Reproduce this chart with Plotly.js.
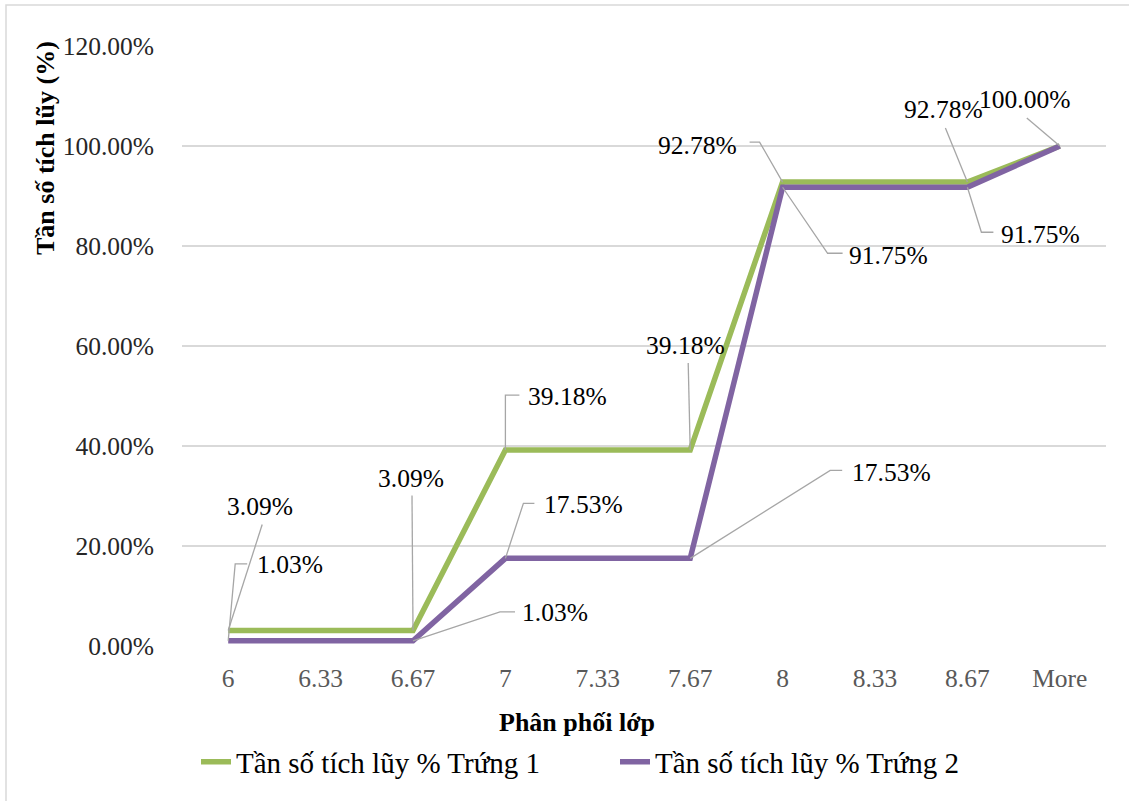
<!DOCTYPE html>
<html>
<head>
<meta charset="utf-8">
<script src="https://cdn.plot.ly/plotly-3.0.1.min.js"></script>
<style>
  html, body { margin: 0; padding: 0; background: #fff; }
  #chart { width: 1129px; height: 801px; }
</style>
</head>
<body>
<div id="chart"></div>
<script>
// Class boundaries (category axis) and cumulative frequencies in percent
const classes = ['6', '6.33', '6.67', '7', '7.33', '7.67', '8', '8.33', '8.67', 'More'];
const egg1Cum = [3.09, 3.09, 3.09, 39.18, 39.18, 39.18, 92.78, 92.78, 92.78, 100.00];
const egg2Cum = [1.03, 1.03, 1.03, 17.53, 17.53, 17.53, 91.75, 91.75, 91.75, 100.00];
const seriesNames = ['Tần số tích lũy % Trứng 1', 'Tần số tích lũy % Trứng 2'];
const yTicks = [0, 20, 40, 60, 80, 100, 120];

const GREEN = '#9BBB59';
const PURPLE = '#8064A2';
const FONT = 'Liberation Serif, Times New Roman, serif';

// Plot-area box in pixels
const W = 1129, H = 801;
const M = { l: 182, r: 23, t: 46, b: 155 };
const PW = W - M.l - M.r, PH = H - M.t - M.b;
const px2x = p => (p - M.l) / PW;          // pixel -> paper x
const px2y = p => (H - M.b - p) / PH;      // pixel -> paper y

// Data-label placement: [series, point index, text offset dx, dy, leader path (screen px, y down)]
const labelSpecs = [
  [0, 0,  32, -124, [[0, 0], [34, -106]]],
  [1, 0,  62,  -76, [[0, 0], [7, -77], [19, -77]]],
  [0, 2,  -2, -152, [[0, 0], [-1, -135]]],
  [1, 2, 142,  -28, [[0, 0], [87, -29], [102, -29]]],
  [0, 3,  62,  -54, [[0, 0], [0, -55], [14, -55]]],
  [1, 3,  78,  -54, [[0, 0], [18, -55], [29, -55]]],
  [0, 5,  -5, -105, [[0, 0], [-2, -87]]],
  [1, 5, 201,  -86, [[0, 0], [140, -88], [152, -88]]],
  [0, 6, -85,  -37, [[0, 0], [-23, -40], [-33, -40]]],
  [1, 6, 106,   68, [[0, 0], [45, 66], [60, 66]]],
  [0, 8, -24,  -73, [[0, 0], [-22, -54]]],
  [1, 8,  73,   47, [[0, 0], [14, 45], [26, 45]]],
  [0, 9, -35,  -47, [[0, 0], [-33, -28]]]
];
const seriesData = [egg1Cum, egg2Cum];

const traces = [
  { x: classes, y: egg1Cum, name: seriesNames[0], type: 'scatter', mode: 'lines',
    line: { color: GREEN, width: 5.5 }, hoverinfo: 'x+y' },
  { x: classes, y: egg2Cum, name: seriesNames[1], type: 'scatter', mode: 'lines',
    line: { color: PURPLE, width: 5.5 }, hoverinfo: 'x+y' }
];

const annotations = [];
const shapes = [];

// Category positions are addressed by index so numeric-looking names are not read as numbers
labelSpecs.forEach(([s, i, dx, dy, path]) => {
  const v = seriesData[s][i];
  annotations.push({
    x: i, y: v, xref: 'x', yref: 'y',
    text: v.toFixed(2) + '%', showarrow: false,
    xanchor: 'center', yanchor: 'middle',
    xshift: dx, yshift: -dy,
    font: { family: FONT, size: 25.5, color: '#000' }
  });
  const d = path.map((p, k) => (k ? 'L' : 'M') + p[0] + ',' + (-p[1])).join(' ');
  shapes.push({
    type: 'path', xref: 'x', yref: 'y',
    xsizemode: 'pixel', ysizemode: 'pixel',
    xanchor: i, yanchor: v,
    path: d, line: { color: '#A6A6A6', width: 1.3 }
  });
});

// Axis titles
annotations.push({
  xref: 'paper', yref: 'paper', x: px2x(577), y: px2y(722),
  xanchor: 'center', yanchor: 'middle',
  text: '<b>Phân phối lớp</b>', showarrow: false,
  font: { family: FONT, size: 26, color: '#000' }
});
annotations.push({
  xref: 'paper', yref: 'paper', x: px2x(45), y: px2y(148),
  xanchor: 'center', yanchor: 'middle',
  text: '<b>Tần số tích lũy (%)</b>', showarrow: false, textangle: -90,
  font: { family: FONT, size: 26, color: '#000' }
});

// Chart outline
shapes.push({
  type: 'rect', xref: 'paper', yref: 'paper', layer: 'below',
  x0: px2x(6), x1: px2x(1140), y0: px2y(812), y1: px2y(5),
  line: { color: '#D9D9D9', width: 1.5 }, fillcolor: 'rgba(0,0,0,0)'
});

const layout = {
  width: W, height: H,
  margin: M,
  paper_bgcolor: '#fff', plot_bgcolor: '#fff',
  font: { family: FONT, size: 24, color: '#000' },
  showlegend: true,
  legend: {
    orientation: 'h', x: px2x(196), xanchor: 'left', y: px2y(762), yanchor: 'middle',
    entrywidth: 374, entrywidthmode: 'pixels',
    font: { family: FONT, size: 29, color: '#000' },
    bgcolor: 'rgba(0,0,0,0)', borderwidth: 0
  },
  xaxis: {
    type: 'category', categoryorder: 'array', categoryarray: classes,
    range: [-0.5, classes.length - 0.5],
    showgrid: false, zeroline: false, showline: false, ticks: '',
    tickfont: { family: FONT, size: 25.5, color: '#595959' },
    ticklabelstandoff: 14, fixedrange: true
  },
  yaxis: {
    range: [0, 120], tickvals: yTicks,
    ticktext: yTicks.map(t => t.toFixed(2) + '%'),
    showgrid: true, gridcolor: '#D9D9D9', gridwidth: 1.3,
    zeroline: false, showline: false, ticks: '',
    tickfont: { family: FONT, size: 25.5, color: '#262626' },
    ticklabelstandoff: 27, fixedrange: true
  },
  annotations: annotations,
  shapes: shapes
};

Plotly.newPlot('chart', traces, layout, { displayModeBar: false, staticPlot: true });
</script>
</body>
</html>
